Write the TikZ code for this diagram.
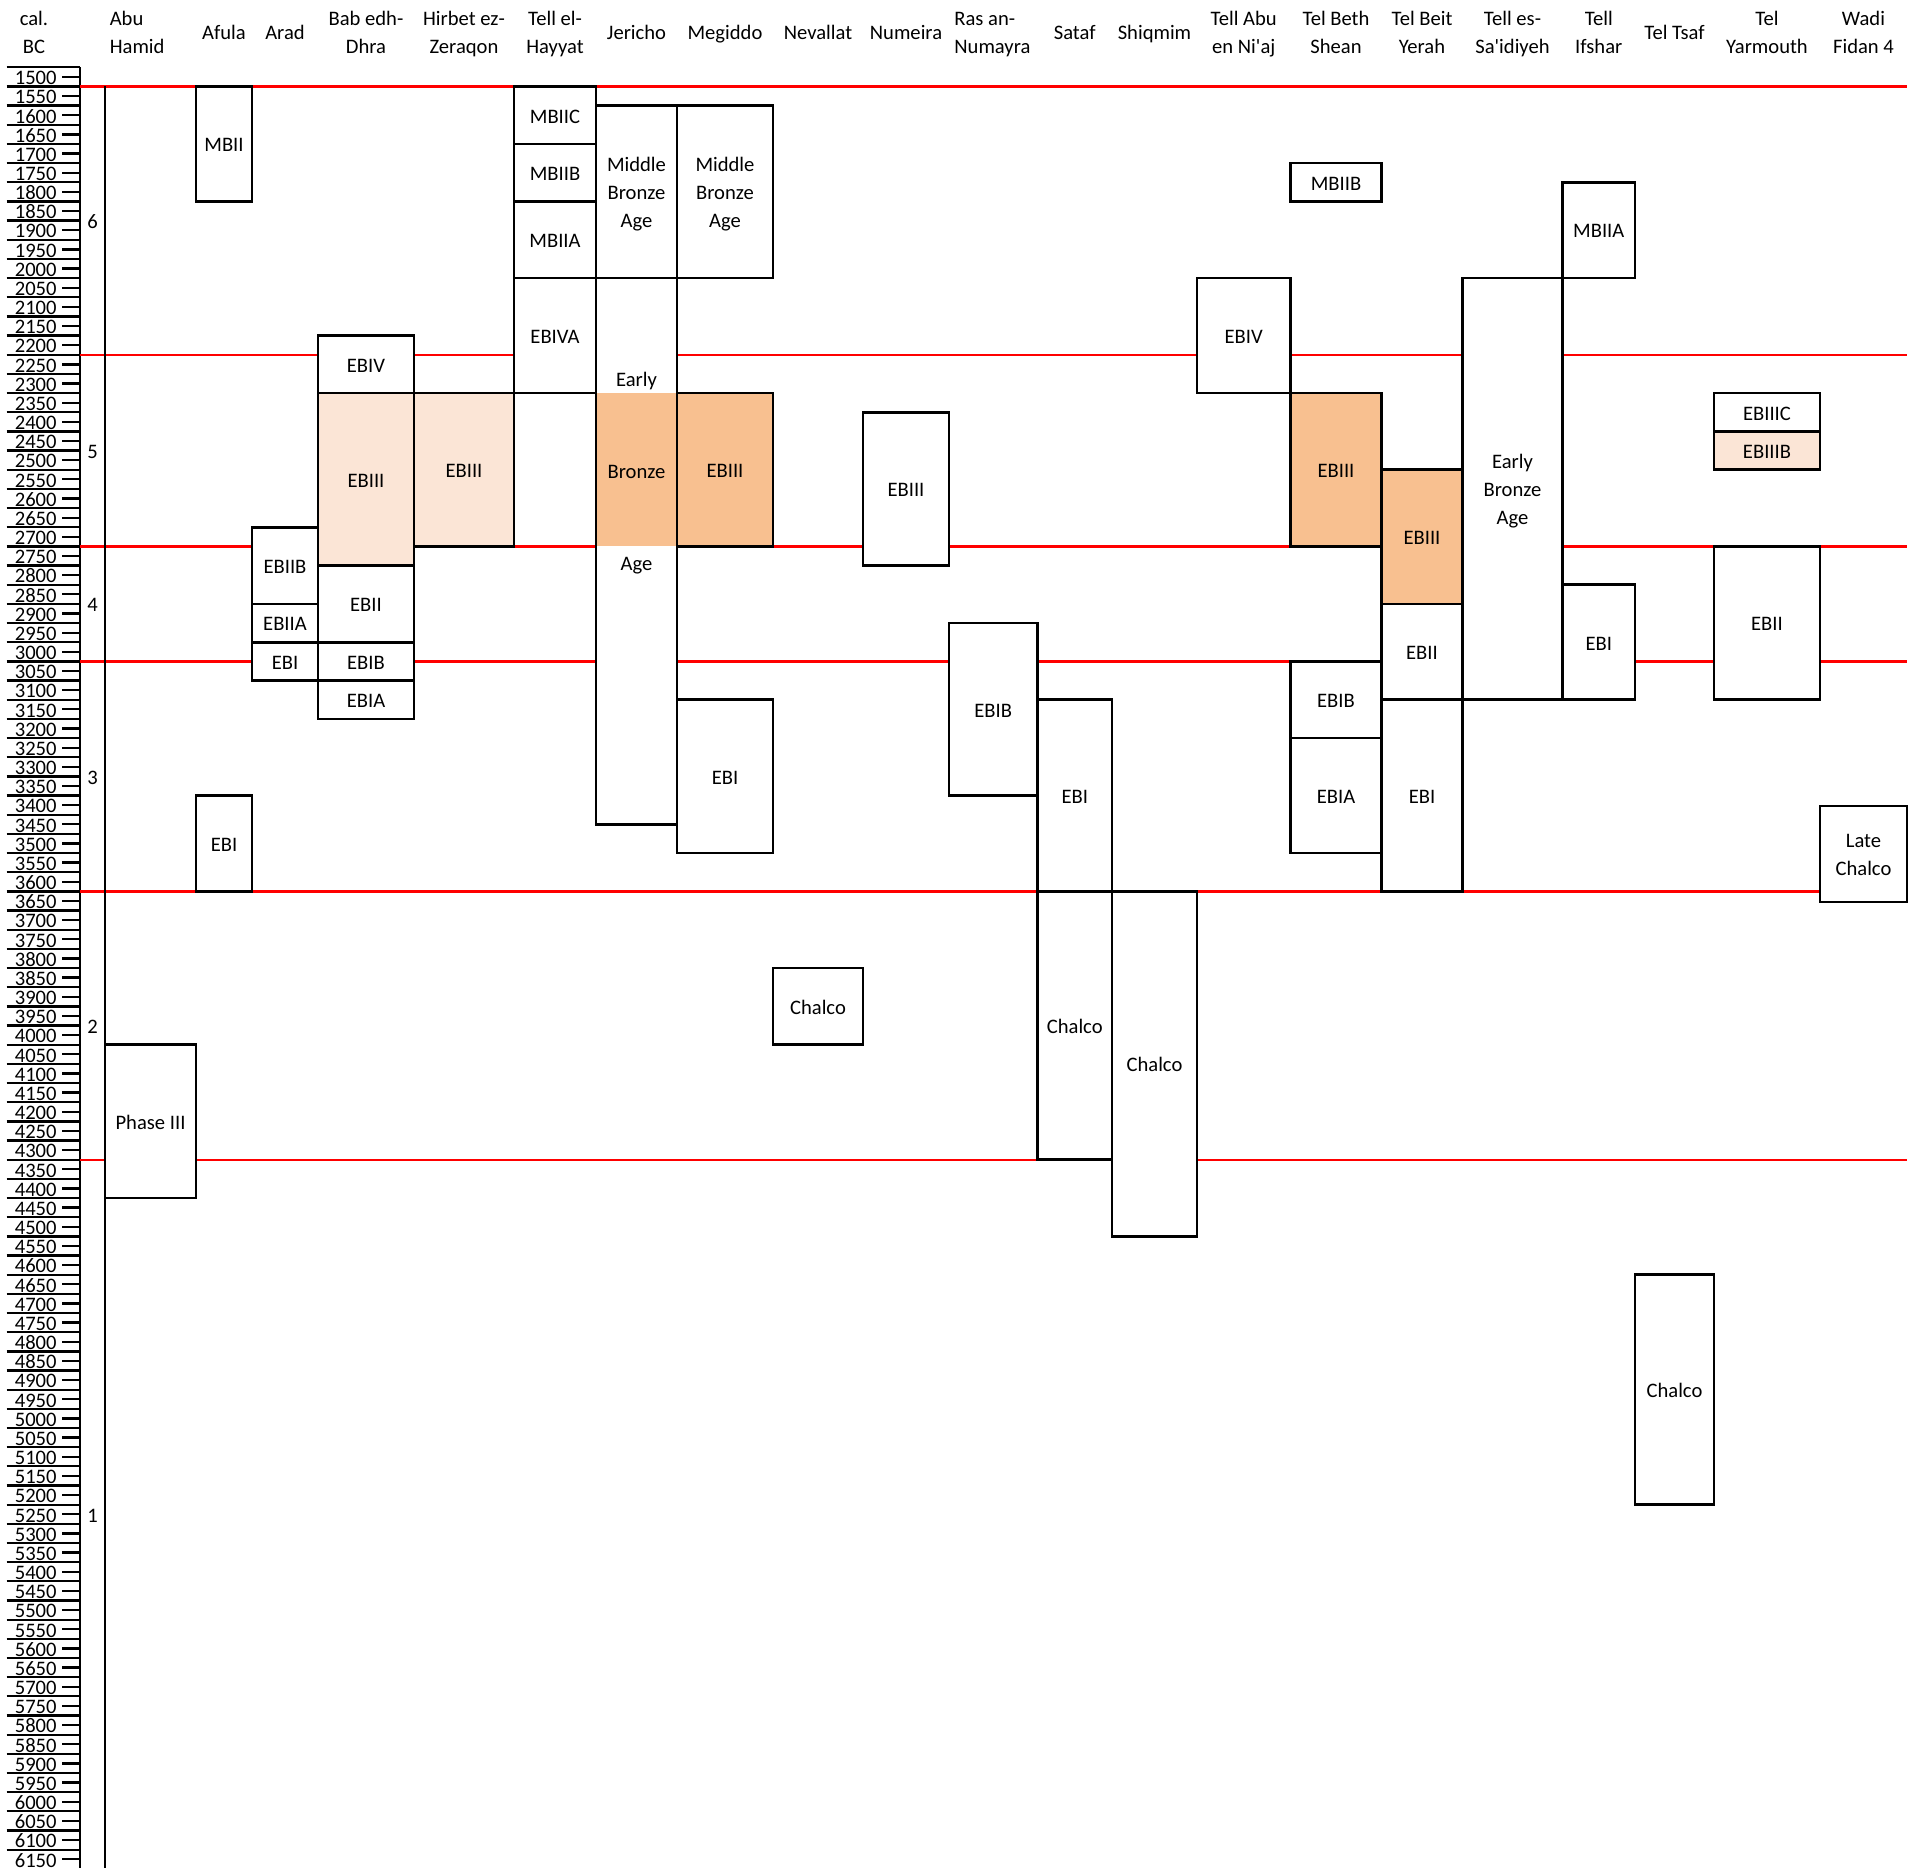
\documentclass[tikz,border=0pt]{standalone}
\usepackage{fontspec}
\setmainfont{Carlito}[Ligatures=TeXOff]
\definecolor{peach}{RGB}{251,229,214}
\definecolor{orng}{RGB}{248,192,144}
\definecolor{redl}{RGB}{255,0,0}
\newcommand\bx[7]{%
  \draw[bline, fill=#6] (#2,#4) rectangle (#3,#5);
  \node[lbl] (#1) at ({(#2+#3)/2},{(#4+#5)/2}) {#7};}
\begin{document}
\begin{tikzpicture}[x=0.5pt, y=-9.5825pt,
  txt/.style={font=\fontsize{10.3pt}{14pt}\selectfont, yshift=-1.1pt},
  lbl/.style={inner sep=0pt, align=center, txt},
  hdr/.style={inner sep=0pt, align=center, txt},
  numl/.style={inner sep=0pt, txt},
  axl/.style={line width=1.15pt, black},
  redline/.style={line width=1.15pt, redl},
  bline/.style={line width=1.3pt, black}]
\useasboundingbox (0,-3.5116) rectangle (1919,93.958);
% axis
\foreach \i in {0,...,93} {
  \draw[axl] (6.7,\i) -- (80,\i);
  \draw[axl] (62,\i+0.5) -- (80,\i+0.5);
  \pgfmathtruncatemacro\v{1500+50*\i}
  \node[numl, anchor=east] (n\i) at (57,\i+0.5) {\strut\v};
}
\draw[axl] (80,0) -- (80,94);
% period numbers
\node[numl] (p6) at (92.7,8) {\strut 6};
\node[numl] (p5) at (92.7,20) {\strut 5};
\node[numl] (p4) at (92.7,28) {\strut 4};
\node[numl] (p3) at (92.7,37) {\strut 3};
\node[numl] (p2) at (92.7,50) {\strut 2};
\node[numl] (p1) at (92.7,75.5) {\strut 1};
% red lines
\foreach \t in {1,15,25,31,43,57} \draw[redline] (80,\t) -- (1907,\t);
% Abu Hamid line
\draw[bline] (105,1) -- (105,94);
% headers
\node[hdr] (hcal) at (34,-1.87) {\strut cal.\\\strut BC};
\node[hdr, anchor=west, align=left] (hah) at (109.4,-1.87) {\strut Abu\\\strut Hamid};
\node[hdr] (haf) at (224,-1.87) {\strut Afula};
\node[hdr] (har) at (285,-1.87) {\strut Arad};
\node[hdr] (hba) at (366,-1.87) {\strut Bab edh-\\\strut Dhra};
\node[hdr] (hhi) at (464,-1.87) {\strut Hirbet ez-\\\strut Zeraqon};
\node[hdr] (hha) at (555,-1.87) {\strut Tell el-\\\strut Hayyat};
\node[hdr] (hje) at (636.5,-1.87) {\strut Jericho};
\node[hdr] (hme) at (725,-1.87) {\strut Megiddo};
\node[hdr] (hne) at (818,-1.87) {\strut Nevallat};
\node[hdr] (hnu) at (906,-1.87) {\strut Numeira};
\node[hdr, anchor=west, align=left] (hra) at (954,-1.87) {\strut Ras an-\\\strut Numayra};
\node[hdr] (hsa) at (1074.75,-1.87) {\strut Sataf};
\node[hdr] (hsh) at (1154.5,-1.87) {\strut Shiqmim};
\node[hdr] (han) at (1243.75,-1.87) {\strut Tell Abu\\\strut en Ni'aj};
\node[hdr] (hbs) at (1336,-1.87) {\strut Tel Beth\\\strut Shean};
\node[hdr] (hby) at (1422,-1.87) {\strut Tel Beit\\\strut Yerah};
\node[hdr] (hsd) at (1512.5,-1.87) {\strut Tell es-\\\strut Sa'idiyeh};
\node[hdr] (hif) at (1598.75,-1.87) {\strut Tell\\\strut Ifshar};
\node[hdr] (hts) at (1674.5,-1.87) {\strut Tel Tsaf};
\node[hdr] (hya) at (1767,-1.87) {\strut Tel\\\strut Yarmouth};
\node[hdr] (hwa) at (1863.5,-1.87) {\strut Wadi\\\strut Fidan 4};
% Abu Hamid
\bx{ahPh}{105}{196}{51}{59}{white}{\strut Phase III}
% Afula
\bx{afMB}{196}{252}{1}{7}{white}{\strut MBII}
\bx{afEB}{196}{252}{38}{43}{white}{\strut EBI}
% Arad
\bx{arB}{252}{318}{24}{28}{white}{\strut EBIIB}
\bx{arA}{252}{318}{28}{30}{white}{\strut EBIIA}
\bx{arI}{252}{318}{30}{32}{white}{\strut EBI}
% Bab edh-Dhra
\bx{baIV}{318}{414}{14}{17}{white}{\strut EBIV}
\bx{baIII}{318}{414}{17}{26}{peach}{\strut EBIII}
\bx{baII}{318}{414}{26}{30}{white}{\strut EBII}
\bx{baIB}{318}{414}{30}{32}{white}{\strut EBIB}
\bx{baIA}{318}{414}{32}{34}{white}{\strut EBIA}
% Hirbet ez-Zeraqon
\bx{hiIII}{414}{514}{17}{25}{peach}{\strut EBIII}
% Tell el-Hayyat
\bx{haC}{514}{596}{1}{4}{white}{\strut MBIIC}
\bx{haB}{514}{596}{4}{7}{white}{\strut MBIIB}
\bx{haA}{514}{596}{7}{11}{white}{\strut MBIIA}
\bx{haIVA}{514}{596}{11}{17}{white}{\strut EBIVA}
% Jericho
\bx{jeMB}{596}{677}{2}{11}{white}{\strut Middle\\\strut Bronze\\\strut Age}
\fill[white] (596,11) rectangle (677,39.5);
\fill[orng] (596,17) rectangle (677,25);
\draw[bline] (596,11) rectangle (677,39.5);
\node[lbl] (jeE1) at (636.5,16.25) {\strut Early};
\node[lbl] (jeE2) at (636.5,21.05) {\strut Bronze};
\node[lbl] (jeE3) at (636.5,25.85) {\strut Age};
% Megiddo
\bx{meMB}{677}{773}{2}{11}{white}{\strut Middle\\\strut Bronze\\\strut Age}
\bx{meIII}{677}{773}{17}{25}{orng}{\strut EBIII}
\bx{meI}{677}{773}{33}{41}{white}{\strut EBI}
% Nevallat
\bx{neCh}{773}{863}{47}{51}{white}{\strut Chalco}
% Numeira
\bx{nuIII}{863}{949}{18}{26}{white}{\strut EBIII}
% Ras an-Numayra
\bx{raIB}{949}{1037.5}{29}{38}{white}{\strut EBIB}
% Sataf
\bx{saI}{1037.5}{1112}{33}{43}{white}{\strut EBI}
\bx{saCh}{1037.5}{1112}{43}{57}{white}{\strut Chalco}
% Shiqmim
\bx{shCh}{1112}{1197}{43}{61}{white}{\strut Chalco}
% Tell Abu en Ni'aj
\bx{anIV}{1197}{1290.5}{11}{17}{white}{\strut EBIV}
% Tel Beth Shean
\bx{bsMB}{1290.5}{1381.5}{5}{7}{white}{\strut MBIIB}
\bx{bsIII}{1290.5}{1381.5}{17}{25}{orng}{\strut EBIII}
\bx{bsIB}{1290.5}{1381.5}{31}{35}{white}{\strut EBIB}
\bx{bsIA}{1290.5}{1381.5}{35}{41}{white}{\strut EBIA}
% Tel Beit Yerah
\bx{byIII}{1381.5}{1462.5}{21}{28}{orng}{\strut EBIII}
\bx{byII}{1381.5}{1462.5}{28}{33}{white}{\strut EBII}
\bx{byI}{1381.5}{1462.5}{33}{43}{white}{\strut EBI}
% Tell es-Sa'idiyeh
\bx{sdEB}{1462.5}{1562.5}{11}{33}{white}{\strut Early\\\strut Bronze\\\strut Age}
% Tell Ifshar
\bx{ifMB}{1562.5}{1635}{6}{11}{white}{\strut MBIIA}
\bx{ifI}{1562.5}{1635}{27}{33}{white}{\strut EBI}
% Tel Tsaf
\bx{tsCh}{1635}{1714}{63}{75}{white}{\strut Chalco}
% Tel Yarmouth
\bx{yaC}{1714}{1820}{17}{19}{white}{\strut EBIIIC}
\bx{yaB}{1714}{1820}{19}{21}{peach}{\strut EBIIIB}
\bx{yaII}{1714}{1820}{25}{33}{white}{\strut EBII}
% Wadi Fidan 4
\bx{waLC}{1820}{1907}{38.55}{43.55}{white}{\strut Late\\\strut Chalco}
\end{tikzpicture}
\end{document}
